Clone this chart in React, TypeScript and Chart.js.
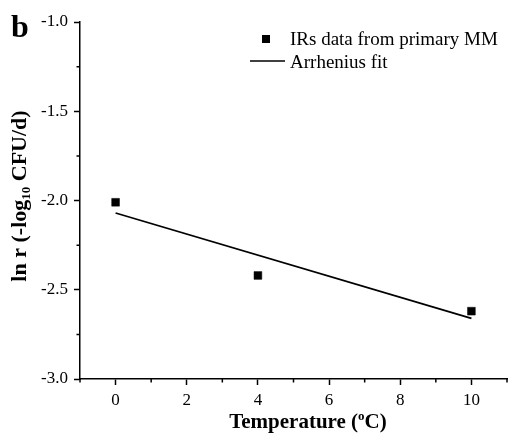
import React, { useEffect, useRef } from "react";
import { Chart, registerables } from "chart.js";

Chart.register(...registerables);

const temperatures = [0, 4, 10];
const lnR = [-2.01, -2.42, -2.62];
const fitX = [0, 10];
const fitY = [-2.07, -2.66];
const xTicks = [0, 2, 4, 6, 8, 10];
const xMinorTicks = [-1, 1, 3, 5, 7, 9, 11];
const yTicks = [-3.0, -2.5, -2.0, -1.5, -1.0];
const yMinorTicks = [-2.75, -2.25, -1.75, -1.25];
const seriesLabels = ["IRs data from primary MM", "Arrhenius fit"];
const panelLabel = "b";

const SERIF = "'Liberation Serif', 'Times New Roman', serif";

function drawRich(
  ctx: CanvasRenderingContext2D,
  parts: { t: string; size: number; dy: number }[],
  cx: number,
  baseline: number
) {
  let total = 0;
  for (const p of parts) {
    ctx.font = `bold ${p.size}px ${SERIF}`;
    total += ctx.measureText(p.t).width;
  }
  let x = cx - total / 2;
  ctx.textAlign = "left";
  ctx.textBaseline = "alphabetic";
  for (const p of parts) {
    ctx.font = `bold ${p.size}px ${SERIF}`;
    ctx.fillText(p.t, x, baseline + p.dy);
    x += ctx.measureText(p.t).width;
  }
}

const decorPlugin = {
  id: "decor",
  afterDraw(chart: any) {
    const ctx: CanvasRenderingContext2D = chart.ctx;
    const xs = chart.scales.x;
    const ys = chart.scales.y;
    const area = chart.chartArea;
    ctx.save();
    ctx.fillStyle = "#000";
    ctx.strokeStyle = "#000";
    // minor ticks
    ctx.lineWidth = 1.5;
    ctx.beginPath();
    for (const v of xMinorTicks) {
      const px = xs.getPixelForValue(v);
      ctx.moveTo(px, area.bottom);
      ctx.lineTo(px, area.bottom + 3.5);
    }
    for (const v of yMinorTicks) {
      const py = ys.getPixelForValue(v);
      ctx.moveTo(area.left, py);
      ctx.lineTo(area.left - 3.5, py);
    }
    ctx.stroke();

    // panel label
    ctx.font = `bold 32px ${SERIF}`;
    ctx.textAlign = "left";
    ctx.textBaseline = "alphabetic";
    ctx.fillText(panelLabel, 11, 37);

    // x title
    drawRich(
      ctx,
      [
        { t: "Temperature (", size: 21, dy: 0 },
        { t: "o", size: 13, dy: -8 },
        { t: "C)", size: 21, dy: 0 },
      ],
      308,
      428
    );

    // y title
    ctx.save();
    ctx.translate(26, 196);
    ctx.rotate(-Math.PI / 2);
    drawRich(
      ctx,
      [
        { t: "ln r (-log", size: 22, dy: 0 },
        { t: "10", size: 13, dy: 4 },
        { t: " CFU/d)", size: 22, dy: 0 },
      ],
      0,
      0
    );
    ctx.restore();

    // legend
    ctx.fillRect(262, 35, 8, 8);
    ctx.lineWidth = 1.6;
    ctx.beginPath();
    ctx.moveTo(250, 61);
    ctx.lineTo(285, 61);
    ctx.stroke();
    ctx.font = `19px ${SERIF}`;
    ctx.textAlign = "left";
    ctx.textBaseline = "alphabetic";
    ctx.fillText(seriesLabels[0], 290, 45);
    ctx.fillText(seriesLabels[1], 290, 68);
    ctx.restore();
  },
};

export default function App() {
  const ref = useRef<HTMLCanvasElement>(null);
  useEffect(() => {
    if (!ref.current) return;
    const chart = new Chart(ref.current, {
      type: "scatter",
      data: {
        datasets: [
          {
            label: seriesLabels[0],
            data: temperatures.map((t, i) => ({ x: t, y: lnR[i] })),
            pointStyle: "rect",
            pointRadius: 5.5,
            pointBackgroundColor: "#000",
            pointBorderColor: "#000",
            pointBorderWidth: 0.5,
            showLine: false,
          },
          {
            label: seriesLabels[1],
            data: fitX.map((t, i) => ({ x: t, y: fitY[i] })),
            showLine: true,
            borderColor: "#000",
            borderWidth: 1.8,
            pointRadius: 0,
            fill: false,
          },
        ],
      },
      options: {
        animation: false,
        responsive: false,
        maintainAspectRatio: false,
        devicePixelRatio: 1,
        layout: { padding: { top: 22, right: 1, left: 0, bottom: 0 } },
        plugins: {
          legend: { display: false },
          tooltip: { enabled: false },
          title: { display: false },
        },
        scales: {
          x: {
            type: "linear",
            min: -1,
            max: 11,
            afterBuildTicks: (s: any) => {
              s.ticks = xTicks.map((v) => ({ value: v }));
            },
            afterFit: (s: any) => {
              s.height = 54;
            },
            grid: {
              drawOnChartArea: false,
              drawTicks: true,
              tickLength: 6,
              tickColor: "#000",
              tickWidth: 1.5,
            },
            border: { display: true, color: "#000", width: 1.5 },
            ticks: {
              color: "#000",
              padding: 5,
              font: { family: SERIF, size: 17 },
              callback: (v: any) => String(v),
            },
          },
          y: {
            type: "linear",
            min: -3,
            max: -1,
            afterBuildTicks: (s: any) => {
              s.ticks = yTicks.map((v) => ({ value: v }));
            },
            afterFit: (s: any) => {
              s.width = 80;
            },
            grid: {
              drawOnChartArea: false,
              drawTicks: true,
              tickLength: 6,
              tickColor: "#000",
              tickWidth: 1.5,
            },
            border: { display: true, color: "#000", width: 1.5 },
            ticks: {
              color: "#000",
              padding: 6,
              font: { family: SERIF, size: 17 },
              callback: (v: any) => Number(v).toFixed(1),
            },
          },
        },
      },
      plugins: [decorPlugin],
    } as any);
    return () => chart.destroy();
  }, []);
  return (
    <div style={{ position: "fixed", left: 0, top: 0, width: 513, height: 433, background: "#fff" }}>
      <canvas ref={ref} width={513} height={433} style={{ width: 513, height: 433, display: "block" }} />
    </div>
  );
}
